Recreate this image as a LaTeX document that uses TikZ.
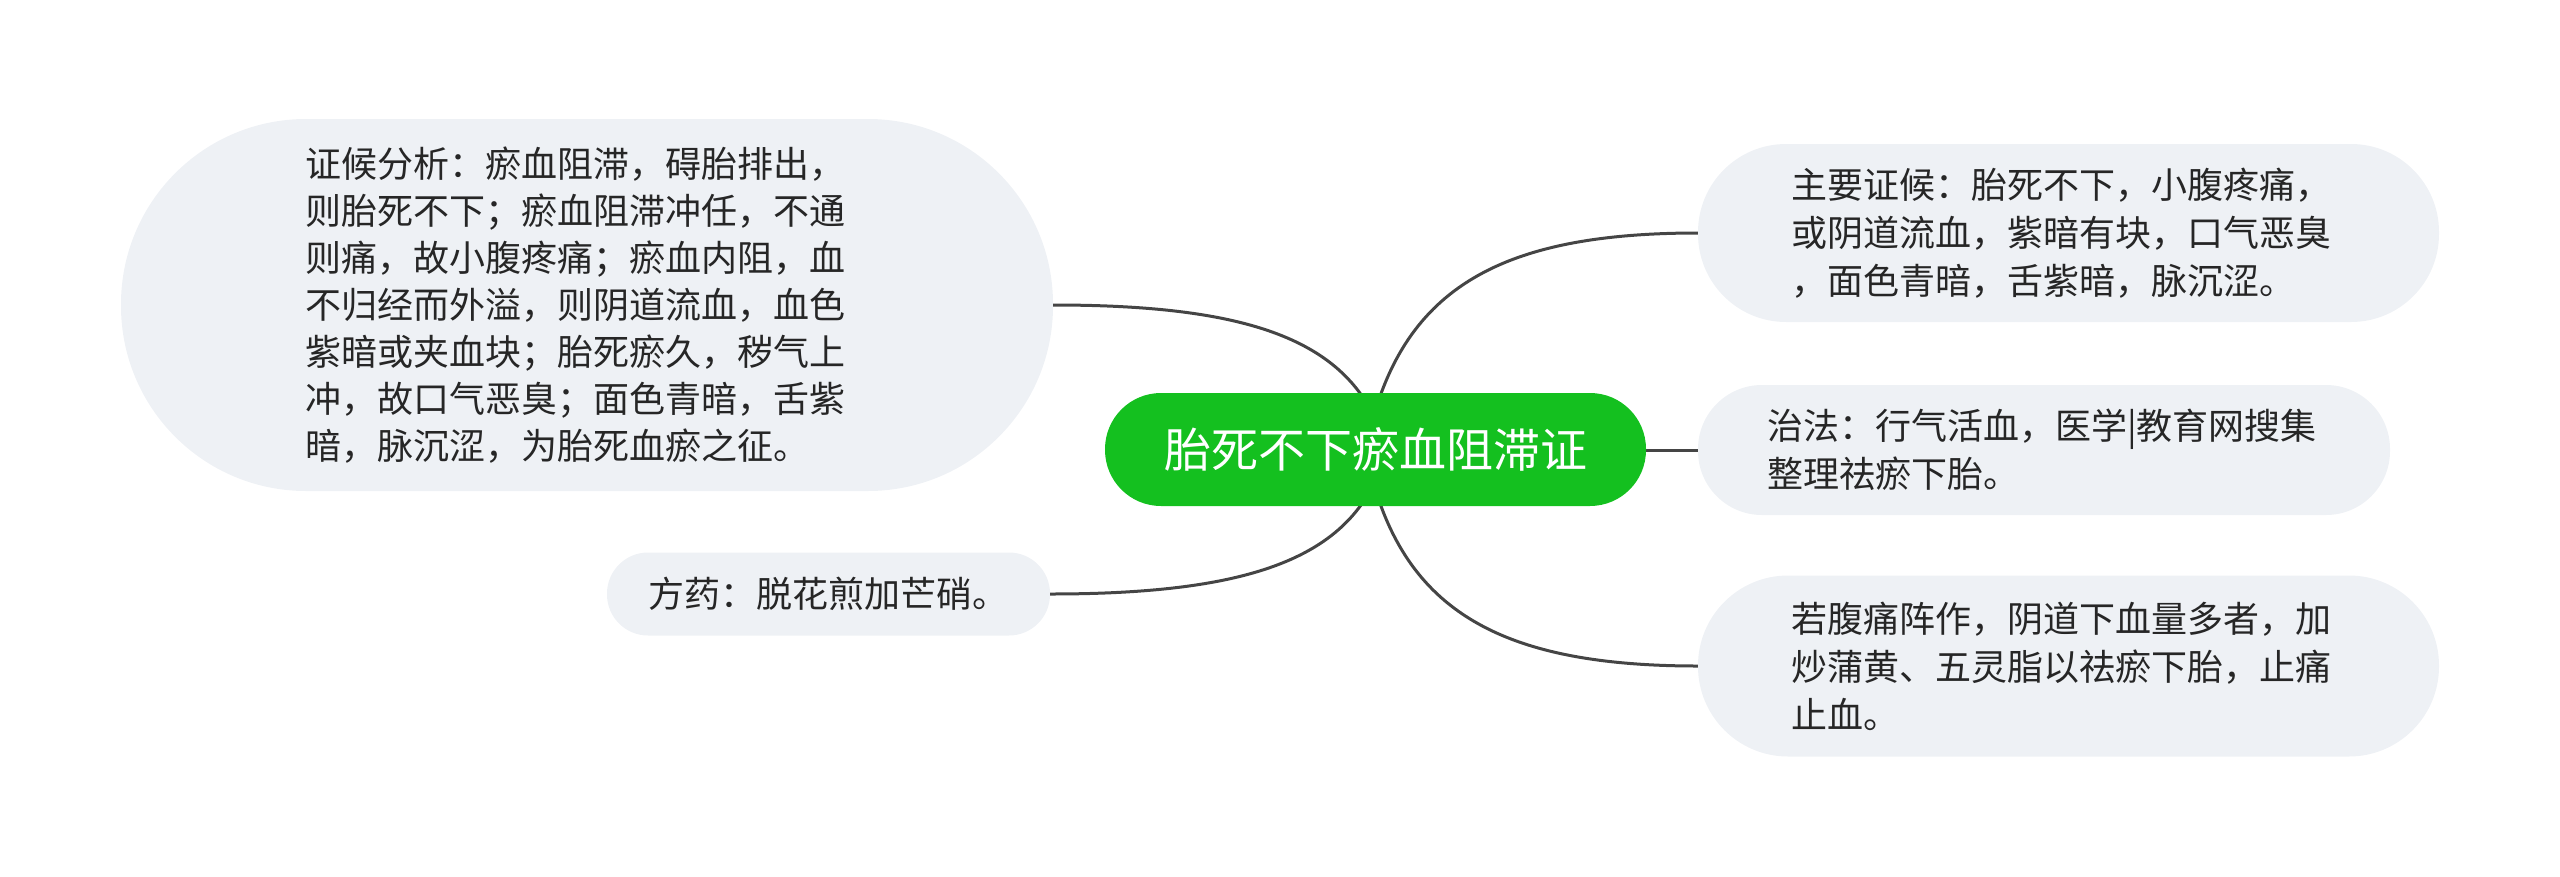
\documentclass[tikz,border=0pt]{standalone}
\usepackage{fontspec}
\newfontfamily\cjk{Noto Sans CJK SC}
\definecolor{bub}{HTML}{EEF1F5}
\definecolor{lnc}{HTML}{454545}
\definecolor{maing}{HTML}{14C01F}
\definecolor{txt}{HTML}{262626}
\begin{document}
\begin{tikzpicture}[x=1pt,y=-1pt,
  bubble/.style={fill=bub, draw=none, inner sep=0pt, text=txt, align=left,
    font=\cjk\fontsize{36}{48}\selectfont},
  conn/.style={draw=lnc, line width=3pt}]
\useasboundingbox (0,0) rectangle (2560,876);

% bubbles
\node[bubble, minimum width=932pt, minimum height=372pt, rounded corners=185pt,
  text width=564pt, font=\cjk\fontsize{36}{47}\selectfont] (L) at (587,305)
  {证候分析：瘀血阻滞，碍胎排出，\\则胎死不下；瘀血阻滞冲任，不通\\则痛，故小腹疼痛；瘀血内阻，血\\不归经而外溢，则阴道流血，血色\\紫暗或夹血块；胎死瘀久，秽气上\\冲，故口气恶臭；面色青暗，舌紫\\暗，脉沉涩，为胎死血瘀之征。};
\node[bubble, minimum width=443pt, minimum height=83pt, rounded corners=41pt,
  text width=360pt] (LS) at (828.5,594)
  {方药：脱花煎加芒硝。};
\node[bubble, minimum width=741pt, minimum height=178pt, rounded corners=88pt,
  text width=555pt] (RT) at (2068.5,233)
  {主要证候：胎死不下，小腹疼痛，\\或阴道流血，紫暗有块，口气恶臭\\，面色青暗，舌紫暗，脉沉涩。};
\node[bubble, minimum width=692pt, minimum height=130pt, rounded corners=64pt,
  text width=554pt] (RM) at (2044,450)
  {治法：行气活血，医学|教育网搜集\\整理祛瘀下胎。};
\node[bubble, minimum width=741pt, minimum height=181pt, rounded corners=90pt,
  text width=555pt] (RB) at (2068.5,666)
  {若腹痛阵作，阴道下血量多者，加\\炒蒲黄、五灵脂以祛瘀下胎，止痛\\止血。};

% connector ends hidden under the central node
\coordinate (eTL) at (1380,430);
\coordinate (eBL) at (1380,470);
\coordinate (eTR) at (1370,430);
\coordinate (eBR) at (1370,470);
\coordinate (eMR) at (1386,450);

\draw[conn] (L.east) .. controls (1249,305) and (1345,340) .. (eTL);
\draw[conn] (LS.east) .. controls (1248,594) and (1345,559) .. (eBL);
\draw[conn] (RT.west) .. controls (1501,233) and (1405,288) .. (eTR);
\draw[conn] (RB.west) .. controls (1501,666) and (1405,611) .. (eBR);
\draw[conn] (eMR) -- (RM.west);

% central topic
\node[fill=maing, draw=none, minimum width=541pt, minimum height=113pt,
  rounded corners=56pt, inner sep=0pt, text=white,
  font=\cjk\fontsize{47}{56}\selectfont] (C) at (1375.5,449.5) {胎死不下瘀血阻滞证};
\end{tikzpicture}
\end{document}
